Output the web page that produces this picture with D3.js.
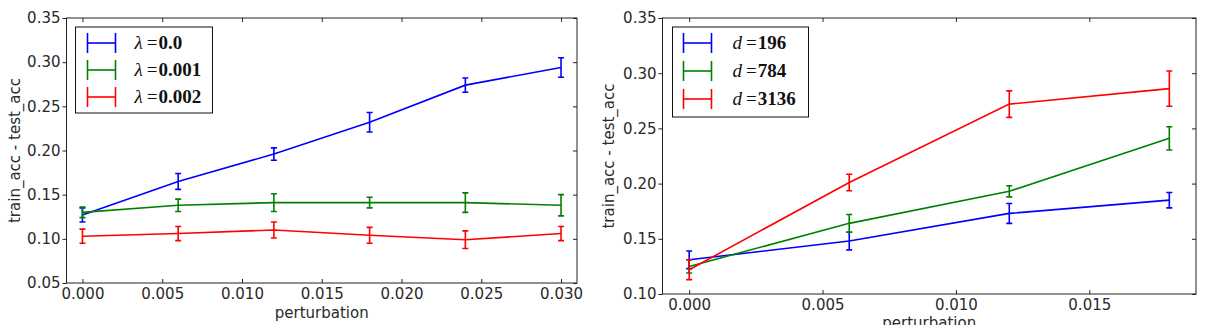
<!DOCTYPE html>
<html><head><meta charset="utf-8">
<script src="https://cdn.jsdelivr.net/npm/d3@7"></script>
<style>body{margin:0;background:#fff}svg{display:block}</style>
</head><body>
<script>
// ---- Data ----
const leftX = [0, 0.006, 0.012, 0.018, 0.024, 0.030];
const leftNames = ["0.0", "0.001", "0.002"];
const leftY0 = [0.127, 0.165, 0.196, 0.232, 0.274, 0.294];
const leftE0 = [0.008, 0.009, 0.007, 0.011, 0.008, 0.011];
const leftY1 = [0.130, 0.138, 0.141, 0.141, 0.141, 0.138];
const leftE1 = [0.006, 0.007, 0.010, 0.006, 0.011, 0.012];
const leftY2 = [0.103, 0.106, 0.110, 0.104, 0.099, 0.106];
const leftE2 = [0.008, 0.008, 0.009, 0.009, 0.010, 0.008];
const leftXTicks = [0, 0.005, 0.010, 0.015, 0.020, 0.025, 0.030];
const leftYTicks = [0.05, 0.10, 0.15, 0.20, 0.25, 0.30, 0.35];

const rightX = [0, 0.006, 0.012, 0.018];
const rightNames = ["196", "784", "3136"];
const rightY0 = [0.131, 0.148, 0.173, 0.185];
const rightE0 = [0.008, 0.008, 0.009, 0.007];
const rightY1 = [0.125, 0.164, 0.193, 0.241];
const rightE1 = [0.006, 0.008, 0.005, 0.0105];
const rightY2 = [0.122, 0.201, 0.272, 0.286];
const rightE2 = [0.009, 0.0075, 0.012, 0.016];
const rightXTicks = [0, 0.005, 0.010, 0.015];
const rightYTicks = [0.10, 0.15, 0.20, 0.25, 0.30, 0.35];

const colors = ["#0000ff", "#008000", "#ff0000"];

const svg = d3.select("body").append("svg").attr("width", 1207).attr("height", 325);

function panel(cfg) {
  const x = d3.scaleLinear().domain(cfg.xd).range([cfg.x0, cfg.x1]);
  const y = d3.scaleLinear().domain(cfg.yd).range([cfg.y1, cfg.y0]);
  const g = svg.append("g");
  // axes box
  g.append("rect").attr("x", cfg.x0).attr("y", cfg.y0)
    .attr("width", cfg.x1 - cfg.x0).attr("height", cfg.y1 - cfg.y0)
    .attr("fill", "none").attr("stroke", "#222").attr("stroke-width", 1);
  // bottom ticks (inside) and labels
  const bx = d3.axisBottom(x).tickValues(cfg.xticks).tickFormat(d3.format(".3f")).tickSizeInner(-4).tickSizeOuter(0).tickPadding(5);
  const ga = g.append("g").attr("transform", `translate(0,${cfg.y1})`).call(bx);
  ga.select(".domain").remove();
  ga.selectAll("text").attr("font-family", "DejaVu Sans").attr("font-size", 15).attr("fill", "#2a2a2a");
  ga.selectAll("line").attr("stroke", "#222");
  // top ticks
  const tx = d3.axisTop(x).tickValues(cfg.xticks).tickFormat("").tickSizeInner(-4).tickSizeOuter(0);
  const gt = g.append("g").attr("transform", `translate(0,${cfg.y0})`).call(tx);
  gt.select(".domain").remove(); gt.selectAll("line").attr("stroke", "#222");
  // left axis
  const ly = d3.axisLeft(y).tickValues(cfg.yticks).tickFormat(d3.format(".2f")).tickSizeInner(4).tickSizeOuter(0).tickPadding(2);
  const gl = g.append("g").attr("transform", `translate(${cfg.x0},0)`).call(ly);
  gl.select(".domain").remove();
  gl.selectAll("text").attr("font-family", "DejaVu Sans").attr("font-size", 15).attr("fill", "#2a2a2a");
  gl.selectAll("line").attr("stroke", "#222");
  // right ticks
  const ry = d3.axisRight(y).tickValues(cfg.yticks).tickFormat("").tickSizeInner(-4).tickSizeOuter(0);
  const gr = g.append("g").attr("transform", `translate(${cfg.x1},0)`).call(ry);
  gr.select(".domain").remove(); gr.selectAll("line").attr("stroke", "#222");
  // clip for data
  const cid = "clip" + cfg.id;
  svg.append("clipPath").attr("id", cid).append("rect")
    .attr("x", cfg.x0).attr("y", cfg.y0).attr("width", cfg.x1 - cfg.x0).attr("height", cfg.y1 - cfg.y0);
  const dg = g.append("g").attr("clip-path", `url(#${cid})`);
  const line = d3.line().x(d => x(d.x)).y(d => y(d.y));
  cfg.series.forEach((s, i) => {
    const pts = cfg.xs.map((xv, j) => ({x: xv, y: s.y[j], e: s.e[j]}));
    dg.append("path").datum(pts).attr("d", line).attr("fill", "none")
      .attr("stroke", colors[i]).attr("stroke-width", 1.6);
    const eb = dg.append("g").attr("stroke", colors[i]).attr("stroke-width", 1.6);
    pts.forEach(p => {
      eb.append("line").attr("x1", x(p.x)).attr("x2", x(p.x)).attr("y1", y(p.y - p.e)).attr("y2", y(p.y + p.e));
      eb.append("line").attr("x1", x(p.x) - 3).attr("x2", x(p.x) + 3).attr("y1", y(p.y - p.e)).attr("y2", y(p.y - p.e));
      eb.append("line").attr("x1", x(p.x) - 3).attr("x2", x(p.x) + 3).attr("y1", y(p.y + p.e)).attr("y2", y(p.y + p.e));
    });
  });
  // labels
  g.append("text").attr("x", (cfg.x0 + cfg.x1) / 2).attr("y", cfg.xly)
    .attr("text-anchor", "middle").attr("font-family", "DejaVu Sans").attr("font-size", 15)
    .attr("fill", "#2a2a2a").text("perturbation");
  g.append("text").attr("transform", `translate(${cfg.ylx},${(cfg.y0 + cfg.y1) / 2}) rotate(-90)`)
    .attr("text-anchor", "middle").attr("font-family", "DejaVu Sans").attr("font-size", 15)
    .attr("fill", "#2a2a2a").text("train_acc - test_acc");
  // legend
  const L = cfg.legend;
  g.append("rect").attr("x", L.x).attr("y", L.y).attr("width", L.w).attr("height", L.h)
    .attr("fill", "#fff").attr("stroke", "#111").attr("stroke-width", 1);
  cfg.names.forEach((n, i) => {
    const yy = L.y + 16 + i * L.dy;
    const lg = g.append("g").attr("stroke", colors[i]).attr("stroke-width", 1.6);
    lg.append("line").attr("x1", L.x + L.mx).attr("x2", L.x + L.mx + 28).attr("y1", yy).attr("y2", yy);
    lg.append("line").attr("x1", L.x + L.mx).attr("x2", L.x + L.mx).attr("y1", yy - 10).attr("y2", yy + 10);
    lg.append("line").attr("x1", L.x + L.mx + 28).attr("x2", L.x + L.mx + 28).attr("y1", yy - 10).attr("y2", yy + 10);
    const t = g.append("text").attr("x", L.x + L.tx).attr("y", yy + 6)
      .attr("font-family", "Liberation Serif, DejaVu Serif, serif").attr("font-size", 19).attr("fill", "#111");
    t.append("tspan").attr("font-style", "italic").text(cfg.sym);
    t.append("tspan").attr("dx", 4).text("=");
    t.append("tspan").attr("dx", 1).attr("font-weight", "bold").text(n);
  });
}

panel({
  id: "L", x0: 66.5, x1: 577, y0: 18, y1: 283,
  xd: [-0.001, 0.031], yd: [0.05, 0.35],
  xticks: leftXTicks, yticks: leftYTicks, xs: leftX, ylx: 20, xly: 318,
  series: [{y: leftY0, e: leftE0}, {y: leftY1, e: leftE1}, {y: leftY2, e: leftE2}],
  names: leftNames, sym: "λ",
  legend: {x: 75.5, y: 27, w: 137, h: 86, dy: 27, mx: 12, tx: 59}
});
panel({
  id: "R", x0: 662.5, x1: 1196, y0: 18, y1: 294,
  xd: [-0.001, 0.019], yd: [0.10, 0.35],
  xticks: rightXTicks, yticks: rightYTicks, xs: rightX, ylx: 614, xly: 328,
  series: [{y: rightY0, e: rightE0}, {y: rightY1, e: rightE1}, {y: rightY2, e: rightE2}],
  names: rightNames, sym: "d",
  legend: {x: 672.5, y: 27, w: 136, h: 90, dy: 28, mx: 11, tx: 60}
});
</script>
</body></html>
